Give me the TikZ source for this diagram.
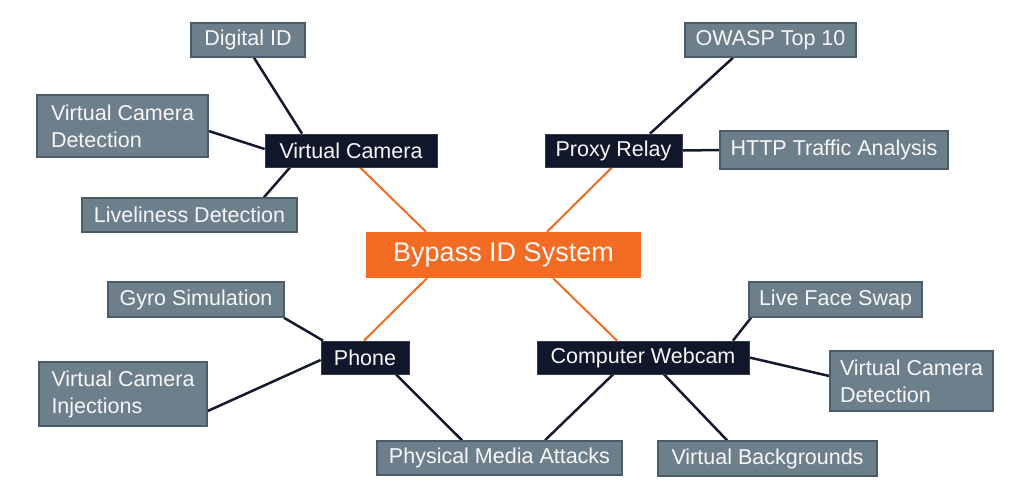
\documentclass[tikz,border=0pt]{standalone}
\usepackage{fontspec}
\setmainfont{Liberation Sans}
\usetikzlibrary{backgrounds}
\definecolor{leafgray}{HTML}{6E7F8C}
\definecolor{leafedge}{HTML}{4A5C69}
\definecolor{hubnavy}{HTML}{10172B}
\definecolor{rootorange}{HTML}{F26C24}
\definecolor{linenavy}{HTML}{131A2E}
\definecolor{txt}{HTML}{F7F7F7}
\begin{document}
\begin{tikzpicture}[x=1pt,y=-1pt,
  box/.style={text=txt, inner sep=0pt, font=\fontsize{21.5}{27}\selectfont, anchor=center},
  leaf/.style={box, fill=leafgray, draw=leafedge, line width=1.5pt},
  hub/.style={box, fill=hubnavy, draw=hubnavy!85!white, line width=0.8pt},
  root/.style={box, fill=rootorange, font=\fontsize{27}{32}\selectfont},
  conn/.style={draw=linenavy, line width=2.5pt},
  rconn/.style={draw=rootorange, line width=2pt},
]
\useasboundingbox (0,0) rectangle (1024,499);

% root
\node[root, minimum width=275pt, minimum height=46pt] (sys) at (503.5,255) {Bypass ID System};

% hubs
\node[hub, minimum width=172pt, minimum height=33pt] (vc) at (351,150.5) {Virtual Camera};
\node[hub, minimum width=137pt, minimum height=33pt] (proxy) at (613.5,150.5) {Proxy Relay};
\node[hub, minimum width=88pt, minimum height=33pt] (phone) at (365,357.5) {Phone};
\node[hub, minimum width=212pt, minimum height=33pt] (webcam) at (643,357.5) {Computer Webcam};

% leaves
\node[leaf, minimum width=114pt, minimum height=34pt] (dig) at (248,40) {Digital ID};
\node[leaf, minimum width=171pt, minimum height=62pt, align=left] (vcd) at (122.5,126) {Virtual Camera\\Detection};
\node[leaf, minimum width=215pt, minimum height=34pt] (live) at (189.5,215) {Liveliness Detection};
\node[leaf, minimum width=171pt, minimum height=34pt] (owasp) at (770.5,40) {OWASP Top 10};
\node[leaf, minimum width=228pt, minimum height=38pt] (http) at (834,150) {HTTP Traffic Analysis};
\node[leaf, minimum width=176pt, minimum height=35pt] (gyro) at (196,299.5) {Gyro Simulation};
\node[leaf, minimum width=168pt, minimum height=64pt, align=left] (vci) at (123,394) {Virtual Camera\\Injections};
\node[leaf, minimum width=173pt, minimum height=35pt] (lfs) at (835.5,299.5) {Live Face Swap};
\node[leaf, minimum width=163pt, minimum height=60pt, align=left] (vcd2) at (911.5,381) {Virtual Camera\\Detection};
\node[leaf, minimum width=245pt, minimum height=34pt] (pma) at (499.5,458) {Physical Media Attacks};
\node[leaf, minimum width=219pt, minimum height=35pt] (vb) at (767.5,458.5) {Virtual Backgrounds};

\begin{scope}[on background layer]
  \fill[white] (0,0) rectangle (1024,499);
  % orange spokes
  \draw[rconn] ([xshift=9pt]vc.south) -- ([xshift=-77.5pt]sys.north);
  \draw[rconn] ([xshift=-1.5pt]proxy.south) -- ([xshift=43.5pt]sys.north);
  \draw[rconn] ([xshift=-76.5pt]sys.south) -- ([xshift=-1pt]phone.north);
  \draw[rconn] ([xshift=49.5pt]sys.south) -- ([xshift=-26pt]webcam.north);
  % leaf connectors
  \draw[conn] ([xshift=6pt]dig.south) -- ([xshift=-49pt]vc.north);
  \draw[conn] ([yshift=-5pt]vcd.east) -- ([yshift=1.5pt]vc.west);
  \draw[conn] ([xshift=74.5pt]live.north) -- ([xshift=-61pt]vc.south);
  \draw[conn] ([xshift=-37.5pt]owasp.south) -- ([xshift=36.5pt]proxy.north);
  \draw[conn] (proxy.east) -- (http.west);
  \draw[conn] ([xshift=88pt]gyro.south) -- ([xshift=-42pt]phone.north);
  \draw[conn] ([yshift=-17pt]vci.east) -- ([yshift=-2.5pt]phone.west);
  \draw[conn] ([xshift=31pt]phone.south) -- ([xshift=-37.5pt]pma.north);
  \draw[conn] ([xshift=-30pt]webcam.south) -- ([xshift=45.5pt]pma.north);
  \draw[conn] ([xshift=21pt]webcam.south) -- ([xshift=-40.5pt]vb.north);
  \draw[conn] ([xshift=90pt]webcam.north) -- ([xshift=-84.5pt]lfs.south);
  \draw[conn] (webcam.east) -- ([yshift=5pt]vcd2.west);
\end{scope}
\end{tikzpicture}
\end{document}
